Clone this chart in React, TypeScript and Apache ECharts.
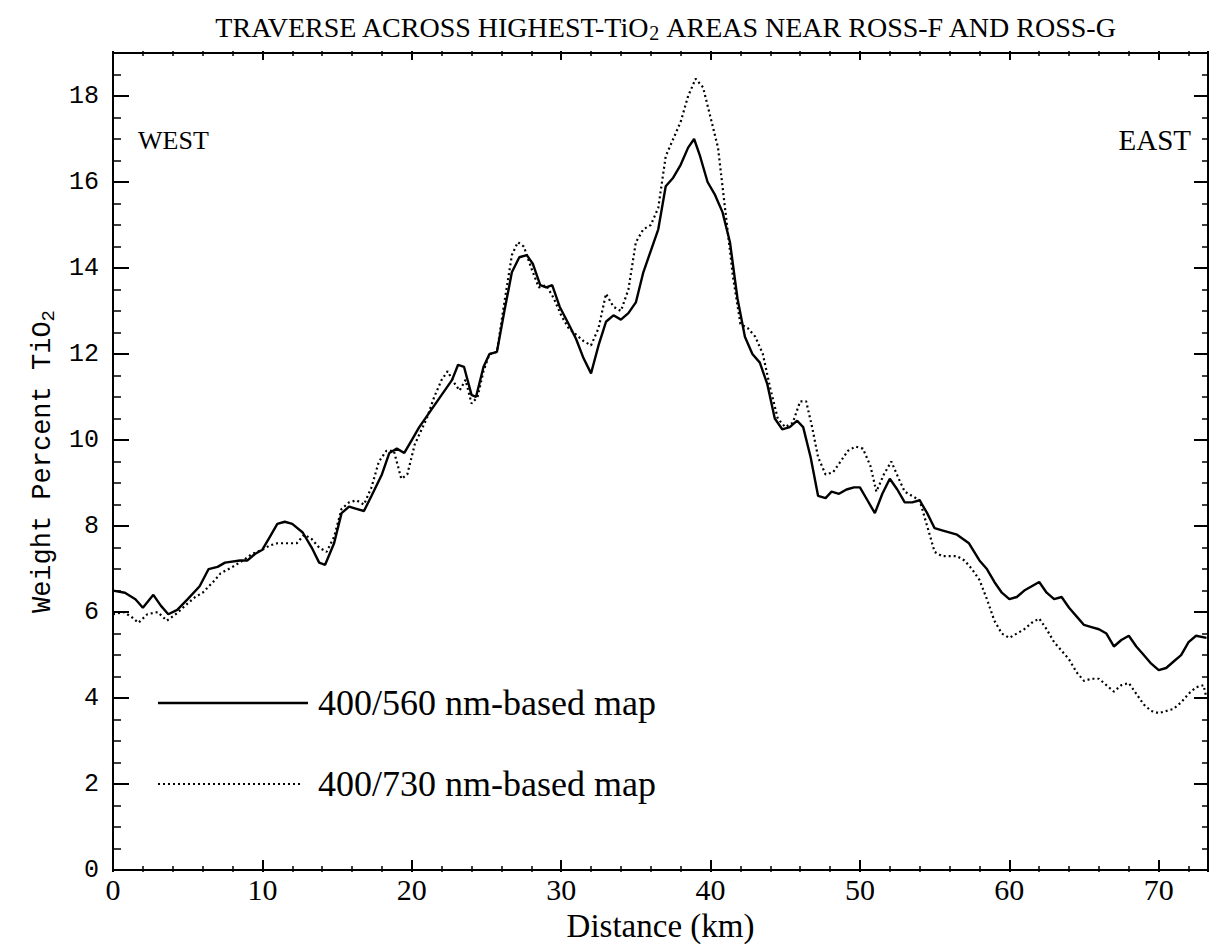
import React, { useEffect, useRef } from "react";
import * as echarts from "echarts";

// ---- Data ----
const solidKm = [0,0.8,1.5,2.0,2.7,3.2,3.7,4.3,5.0,5.8,6.4,7.0,7.5,8.5,9.0,9.5,10.0,10.5,11.0,11.5,12.0,12.7,13.3,13.8,14.2,14.8,15.3,15.8,16.3,16.8,17.3,18.0,18.5,19.0,19.5,20.0,20.5,21.0,22.0,22.7,23.1,23.5,24.0,24.3,24.8,25.2,25.7,26.2,26.7,27.2,27.7,28.1,28.6,29.0,29.4,29.9,30.5,31.0,31.5,32.0,32.5,33.0,33.5,34.0,34.5,35.0,35.5,36.0,36.5,37.0,37.5,38.0,38.5,38.9,39.3,39.8,40.3,40.8,41.3,41.8,42.3,42.8,43.3,43.8,44.3,44.8,45.3,45.8,46.2,46.7,47.2,47.7,48.1,48.6,49.1,49.6,50.0,50.5,51.0,51.5,52.0,52.5,53.0,53.5,54.0,54.5,55.0,55.5,56.5,57.3,58.0,58.5,59.0,59.5,60.0,60.5,61.0,61.5,62.0,62.5,63.0,63.5,64.0,64.5,65.0,65.5,66.0,66.5,67.0,67.5,68.0,68.5,69.0,69.5,70.0,70.5,71.0,71.5,72.0,72.5,73.2];
const solidVal = [6.5,6.45,6.3,6.1,6.4,6.15,5.95,6.05,6.3,6.6,7.0,7.05,7.15,7.2,7.2,7.35,7.45,7.75,8.05,8.1,8.05,7.85,7.5,7.15,7.1,7.6,8.3,8.45,8.4,8.35,8.7,9.2,9.7,9.8,9.7,10.0,10.3,10.55,11.05,11.4,11.75,11.7,11.05,11.0,11.7,12.0,12.05,13.0,13.9,14.25,14.3,14.1,13.6,13.55,13.6,13.1,12.7,12.35,11.9,11.55,12.2,12.75,12.9,12.8,12.95,13.2,13.9,14.4,14.9,15.9,16.1,16.4,16.8,17.0,16.6,16.0,15.7,15.3,14.6,13.3,12.4,12.0,11.8,11.3,10.5,10.25,10.3,10.45,10.3,9.6,8.7,8.65,8.8,8.75,8.85,8.9,8.9,8.6,8.3,8.75,9.1,8.85,8.55,8.55,8.6,8.3,7.95,7.9,7.8,7.6,7.2,7.0,6.7,6.45,6.3,6.35,6.5,6.6,6.7,6.45,6.3,6.35,6.1,5.9,5.7,5.65,5.6,5.5,5.2,5.35,5.45,5.2,5.0,4.8,4.65,4.7,4.85,5.0,5.3,5.45,5.4];

const dotKm = [0,0.7,1.2,1.7,2.3,3.0,3.6,4.2,5.0,5.5,6.0,6.7,7.2,8.0,8.7,9.3,10.0,10.5,11.0,11.7,12.3,12.8,13.3,13.8,14.3,14.8,15.3,15.8,16.3,16.8,17.3,17.8,18.3,18.8,19.3,19.7,20.2,21.0,21.5,22.0,22.4,22.8,23.2,23.6,24.0,24.4,24.8,25.2,25.7,26.2,26.7,27.1,27.5,28.0,28.5,29.0,29.5,30.0,30.5,31.0,31.5,32.0,32.5,33.0,33.5,34.0,34.5,35.0,35.5,36.0,36.5,37.0,37.5,38.0,38.5,39.0,39.5,40.0,40.5,41.0,41.5,42.0,42.5,43.0,43.5,44.0,44.5,45.0,45.5,46.0,46.4,46.8,47.2,47.7,48.2,48.7,49.2,49.7,50.2,50.7,51.1,51.6,52.1,52.6,53.0,53.5,54.0,54.5,55.0,55.5,56.5,57.0,57.5,58.0,58.5,59.0,59.5,60.0,60.5,61.0,61.5,62.0,62.5,63.0,63.5,64.0,64.5,65.0,65.5,66.0,66.5,67.0,67.5,68.0,68.5,69.0,69.5,70.0,70.5,71.0,71.5,72.0,72.5,73.0,73.2];
const dotVal = [5.95,6.0,5.9,5.75,5.95,6.0,5.8,5.95,6.2,6.35,6.45,6.7,6.9,7.05,7.2,7.35,7.45,7.55,7.6,7.6,7.6,7.8,7.7,7.5,7.4,7.75,8.4,8.55,8.6,8.5,8.9,9.5,9.75,9.75,9.1,9.2,9.9,10.5,11.0,11.4,11.6,11.35,11.15,11.4,10.85,11.0,11.6,12.0,12.05,13.2,14.3,14.6,14.5,14.0,13.55,13.6,13.3,12.9,12.6,12.45,12.3,12.2,12.6,13.4,13.1,13.0,13.5,14.6,14.9,15.0,15.4,16.6,17.0,17.4,18.0,18.4,18.2,17.5,16.8,15.3,13.8,12.7,12.6,12.4,12.0,11.2,10.5,10.3,10.4,10.9,10.9,10.3,9.6,9.2,9.25,9.5,9.75,9.85,9.8,9.4,8.8,9.2,9.5,9.1,8.8,8.7,8.6,8.0,7.4,7.3,7.3,7.2,7.0,6.75,6.3,5.8,5.5,5.4,5.5,5.6,5.75,5.85,5.6,5.3,5.1,4.9,4.6,4.4,4.45,4.45,4.3,4.15,4.3,4.35,4.1,3.85,3.7,3.65,3.7,3.75,3.9,4.1,4.25,4.3,4.0];

const seriesNames = ["400/560 nm-based map", "400/730 nm-based map"];
const titleText = "TRAVERSE ACROSS HIGHEST-TiO{sub|2} AREAS NEAR ROSS-F AND ROSS-G";
const xName = "Distance (km)";
const yName = "Weight Percent TiO{sub|2}";
const sideLabels = ["WEST", "EAST"];

const X_MAX = 73.3;
const Y_MAX = 19;

const SERIF = "'Liberation Serif', 'DejaVu Serif', serif";
const MONO = "'Liberation Mono', 'DejaVu Sans Mono', monospace";

// plot box (grid) geometry
const G_LEFT = 113;
const G_RIGHT = 4;
const G_TOP = 53;
const G_BOTTOM = 75;
const W = 1212;
const H = 947;
const PLOT_W = W - G_LEFT - G_RIGHT;
const PLOT_H = H - G_TOP - G_BOTTOM;

export default function App() {
  const ref = useRef<HTMLDivElement>(null);
  useEffect(() => {
    if (!ref.current) return;
    const chart = echarts.init(ref.current, undefined, { renderer: "svg" });
    const zip = (a: number[], b: number[]) => a.map((v, i) => [v, b[i]]);
    const line = (show: boolean) => ({ show, onZero: false, lineStyle: { color: "#000", width: 2 } });
    const xBase = { type: "value", min: 0, max: X_MAX, interval: 10, splitLine: { show: false } };
    const yBase = { type: "value", min: 0, max: Y_MAX, interval: 2, splitLine: { show: false } };
    // Axes used only to draw ticks: placed on the opposite side and shifted
    // across the plot so that their outward ticks point into the plot.
    const xTicks = (position: string, offset: number, major: number, minor: number) => ({
      ...xBase,
      position,
      offset,
      axisLine: line(false),
      axisLabel: { show: false },
      axisTick: { show: true, length: major, lineStyle: { color: "#000", width: 2 } },
      minorTick: { show: true, splitNumber: 5, length: minor, lineStyle: { color: "#000", width: 1.5 } },
    });
    const yTicks = (position: string, offset: number, major: number, minor: number) => ({
      ...yBase,
      position,
      offset,
      axisLine: line(false),
      axisLabel: { show: false },
      axisTick: { show: true, length: major, lineStyle: { color: "#000", width: 2 } },
      minorTick: { show: true, splitNumber: 4, length: minor, lineStyle: { color: "#000", width: 1.5 } },
    });
    chart.setOption({
      animation: false,
      backgroundColor: "#fff",
      grid: {
        left: G_LEFT,
        right: G_RIGHT,
        top: G_TOP,
        bottom: G_BOTTOM,
        containLabel: false,
        show: true,
        borderColor: "#000",
        borderWidth: 2,
        backgroundColor: "transparent",
      },
      xAxis: [
        {
          ...xBase,
          position: "bottom",
          axisLine: line(true),
          axisTick: { show: false },
          axisLabel: {
            show: true,
            color: "#000",
            fontFamily: SERIF,
            fontSize: 30,
            margin: 4,
            showMaxLabel: false,
          },
          name: xName,
          nameLocation: "middle",
          nameGap: 28,
          nameTextStyle: { color: "#000", fontFamily: SERIF, fontSize: 33 },
        },
        // ticks rising from the bottom edge
        xTicks("top", -PLOT_H, 12, 6),
        // ticks hanging from the top edge
        xTicks("bottom", -PLOT_H, 9, 5),
      ],
      yAxis: [
        {
          ...yBase,
          position: "left",
          axisLine: line(true),
          axisTick: { show: false },
          axisLabel: {
            show: true,
            color: "#000",
            fontFamily: MONO,
            fontSize: 25,
            margin: 14,
            showMaxLabel: false,
          },
          name: yName,
          nameLocation: "middle",
          nameRotate: 90,
          nameGap: 54,
          nameTextStyle: {
            color: "#000",
            fontFamily: MONO,
            fontSize: 27,
            rich: {
              sub: { fontFamily: MONO, fontSize: 19, padding: [11, 0, 0, 0] },
            },
          },
        },
        // ticks pointing right from the left edge
        yTicks("right", -PLOT_W, 16, 8),
        // ticks pointing left from the right edge
        yTicks("left", -PLOT_W, 14, 6),
      ],
      series: [
        {
          name: seriesNames[0],
          type: "line",
          xAxisIndex: 0,
          yAxisIndex: 0,
          data: zip(solidKm, solidVal),
          showSymbol: false,
          symbol: "none",
          lineStyle: { color: "#000", width: 2.4, type: "solid" },
          z: 3,
        },
        {
          name: seriesNames[1],
          type: "line",
          xAxisIndex: 0,
          yAxisIndex: 0,
          data: zip(dotKm, dotVal),
          showSymbol: false,
          symbol: "none",
          lineStyle: { color: "#000", width: 2.2, type: [2, 3] },
          z: 2,
        },
      ],
      graphic: [
        {
          type: "text",
          x: 666,
          y: 27,
          style: {
            text: titleText,
            fill: "#000",
            font: `28px ${SERIF}`,
            align: "center",
            verticalAlign: "middle",
            rich: { sub: { fontFamily: SERIF, fontSize: 20, padding: [12, 0, 0, 0] } },
          },
        },
        {
          type: "text",
          x: 138,
          y: 140,
          style: { text: sideLabels[0], fill: "#000", font: `26px ${SERIF}`, align: "left", verticalAlign: "middle" },
        },
        {
          type: "text",
          x: 1191,
          y: 140,
          style: { text: sideLabels[1], fill: "#000", font: `29px ${SERIF}`, align: "right", verticalAlign: "middle" },
        },
        {
          type: "line",
          shape: { x1: 158, y1: 703, x2: 308, y2: 703 },
          style: { stroke: "#000", lineWidth: 2.4 },
        },
        {
          type: "text",
          x: 318,
          y: 703,
          style: { text: seriesNames[0], fill: "#000", font: `36px ${SERIF}`, align: "left", verticalAlign: "middle" },
        },
        {
          type: "line",
          shape: { x1: 158, y1: 784, x2: 303, y2: 784 },
          style: { stroke: "#000", lineWidth: 2.2, lineDash: [2, 3] },
        },
        {
          type: "text",
          x: 318,
          y: 784,
          style: { text: seriesNames[1], fill: "#000", font: `36px ${SERIF}`, align: "left", verticalAlign: "middle" },
        },
      ],
    });
    return () => chart.dispose();
  }, []);
  return (
    <div
      ref={ref}
      style={{ position: "absolute", left: 0, top: 0, width: W, height: H, background: "#fff" }}
    />
  );
}
